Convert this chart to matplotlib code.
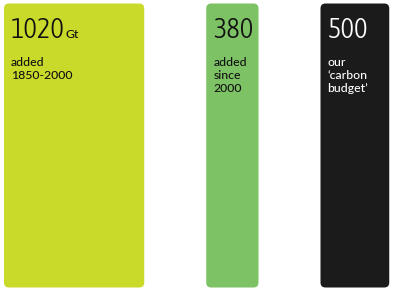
import matplotlib
matplotlib.use("Agg")
import matplotlib.pyplot as plt
from matplotlib import font_manager
from matplotlib.patches import FancyBboxPatch

# carbon amounts, Gt CO2
values = [1020, 380, 500]
labels = ["1020", "380", "500"]
unit = "Gt"
captions = ["added\n1850-2000", "added\nsince\n2000", "our\n\u2018carbon\nbudget\u2019"]
colors = ["#c9da2a", "#7dc264", "#1b1b1b"]
text_colors = ["#111111", "#111111", "#ffffff"]

W, H = 396, 291
scale = 0.1375   # px per Gt
gap = 62
left0 = 4
top, bottom = 3.5, 287.5
pad = 7


def _w(f):
    return f.weight if isinstance(f.weight, int) else 400


# pick a narrow face for the big numbers if one is around
stretch_rank = {"extra-condensed": 0, "condensed": 1, "semi-condensed": 2}
fonts = font_manager.fontManager.ttflist
narrow = [f for f in fonts if f.stretch in stretch_rank]
narrow = sorted(narrow, key=lambda f: (stretch_rank[f.stretch], abs(_w(f) - 300)))
if narrow:
    num_kw = dict(family=narrow[0].name, fontstretch=narrow[0].stretch,
                  fontweight=narrow[0].weight)
else:
    num_kw = dict(family="DejaVu Sans")
small_font = ["Lato", "DejaVu Sans"]

fig = plt.figure(figsize=(W / 100, H / 100), dpi=100)
ax = fig.add_axes([0, 0, 1, 1])
ax.set_xlim(0, W)
ax.set_ylim(H, 0)
ax.axis("off")

x = left0
lefts = []
for v, c in zip(values, colors):
    w = v * scale
    patch = FancyBboxPatch((x, top), w, bottom - top,
                           boxstyle="round,pad=0,rounding_size=5",
                           facecolor=c, edgecolor="none")
    ax.add_patch(patch)
    lefts.append(x)
    x += w + gap

nums = []
for lx, lab, cap, tc in zip(lefts, labels, captions, text_colors):
    t = ax.text(lx + pad, 38, lab, fontsize=20.5, color=tc,
                va="baseline", ha="left", **num_kw)
    nums.append(t)
    ax.text(lx + pad, 57, cap, family=small_font, fontsize=8.8,
            fontweight="medium", color=tc, va="top", ha="left",
            linespacing=1.2)

# unit after the first number
fig.canvas.draw()
bb = nums[0].get_window_extent()
ux = ax.transData.inverted().transform((bb.x1, 0))[0]
ax.text(ux + 1, 38, unit, family=small_font, fontsize=8.8,
        fontweight="medium", color=text_colors[0],
        va="baseline", ha="left")

fig.savefig("out.png", dpi=100)
